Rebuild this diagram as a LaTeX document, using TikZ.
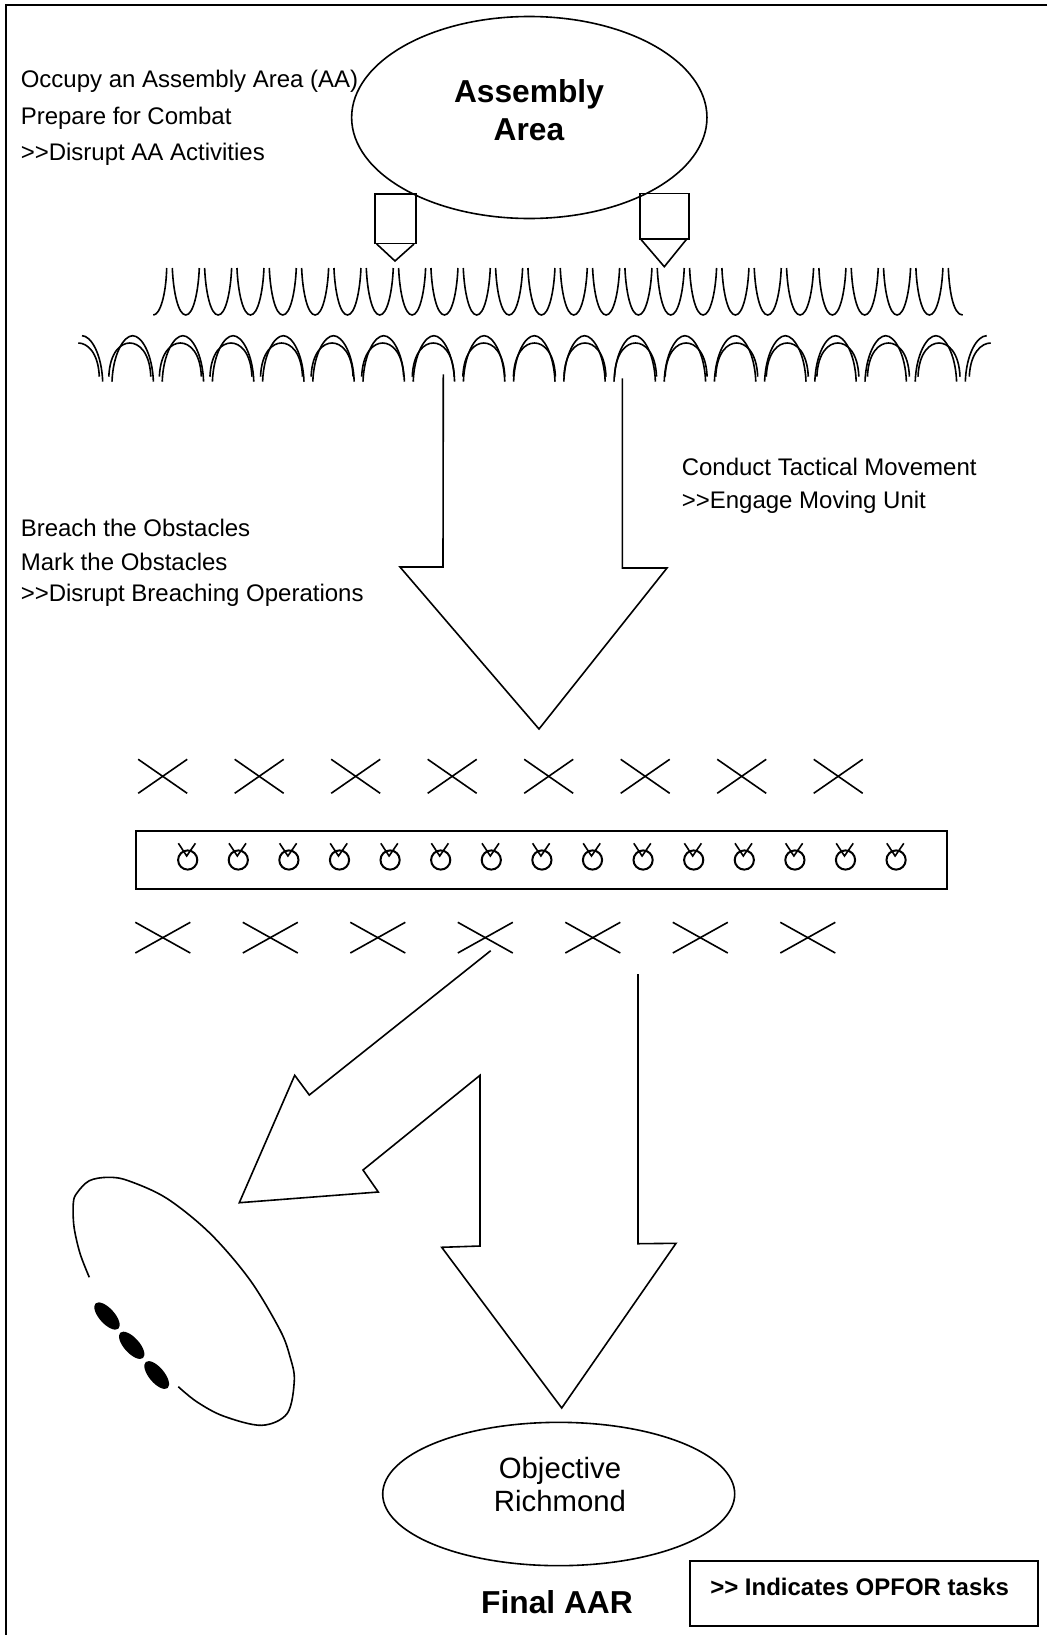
\documentclass[tikz,border=0pt]{standalone}
\usepackage{fontspec}
\setmainfont{Liberation Sans}
\usetikzlibrary{shapes.geometric}
\tikzset{
  ln/.style={draw=black,line width=1.2pt,line join=miter},
  frameline/.style={draw=black,line width=1.7pt},
  oval/.style={ellipse,draw=black,line width=1.2pt,inner sep=0pt,outer sep=0pt},
  lab/.style={anchor=base west,inner sep=0pt,font=\fontsize{18}{18}\selectfont},
  heading/.style={anchor=base,inner sep=0pt,font=\fontsize{23.8}{24}\selectfont\bfseries},
  objlab/.style={anchor=base,inner sep=0pt,font=\fontsize{22}{22}\selectfont},
  keybox/.style={rectangle,draw=black,line width=1.4pt,inner sep=0pt,minimum width=260.5pt,minimum height=49pt},
  blob/.style={ellipse,fill=black,draw=none,inner sep=0pt,minimum width=25.5pt,minimum height=11.5pt},
}
\begin{document}
\begin{tikzpicture}[x=0.75pt,y=-0.75pt]
\useasboundingbox (0,0) rectangle (1047,1635);
\fill[white] (0,0) rectangle (1047,1635);
% frame: only top and left edges
\draw[frameline] (1047,5) -- (6,5) -- (6,1635);

% pencils under the assembly area (drawn first so the ellipse line shows on top)
\draw[ln] (375,194) rectangle (416,243.5);
\draw[ln] (376.7,244) -- (395,261) -- (414,244);
\draw[ln] (640,193.3) rectangle (689,238.7);
\draw[ln] (640.3,238.7) -- (664.3,266.7) -- (687,238.7);

% ovals
\node[oval,minimum width=266.5pt,minimum height=151.5pt] (aa) at (529.3,117.5) {};
\node[oval,minimum width=264pt,minimum height=107.5pt] (obj) at (558.7,1494) {};

% texts
\node[heading] (aa1) at (529,102) {Assembly};
\node[heading] (aa2) at (529,140) {Area};
\node[lab] (t1) at (20.5,87.3) {Occupy an Assembly Area (AA)};
\node[lab] (t2) at (20.5,124) {Prepare for Combat};
\node[lab] (t3) at (20.5,160) {>{}>Disrupt AA Activities};
\node[lab] (t4) at (681.5,475) {Conduct Tactical Movement};
\node[lab] (t5) at (681.5,508.3) {>{}>Engage Moving Unit};
\node[lab] (t6) at (20.5,536) {Breach the Obstacles};
\node[lab] (t7) at (20.5,570) {Mark the Obstacles};
\node[lab] (t8) at (20.5,601.5) {>{}>Disrupt Breaching Operations};
\node[objlab] (o1) at (560,1478) {Objective};
\node[objlab] (o2) at (560,1511.7) {Richmond};
\node[heading] (fin) at (557,1613) {Final AAR};
\node[keybox] (key) at (864,1593.3) {};
\node[lab,font=\fontsize{18}{18}\selectfont\bfseries] (keyt) at (710,1595) {>{}> Indicates OPFOR tasks};

% upper wire: cups
\draw[ln] (153.3,315) .. controls (160,315) and (166,295) .. (166.7,268);
\foreach \n [evaluate=\n as \l using 172.3+32.33*\n] in {0,...,23}{
  \draw[ln] (\l,268) .. controls (\l+1,292) and (\l+6,315) .. (\l+13.5,315)
     .. controls (\l+21,315) and (\l+26,292) .. (\l+27,268);
}
\draw[ln] (948.3,268) .. controls (949.3,290) and (953,315) .. (962.7,315);

% lower wire: two overlapping rows of arches
\foreach \n [evaluate=\n as \c using 132.7+50.2*\n] in {0,...,16}{
  \draw[ln] (\c-20.7,381.7) .. controls (\c-19.7,354) and (\c-9,335.7) .. (\c,335.7)
     .. controls (\c+9,335.7) and (\c+19.7,354) .. (\c+20.7,381.7);
}
\draw[ln] (82,335.7) .. controls (91,335.7) and (101.7,354) .. (102.7,381.7);
\draw[ln] (986.7,335.7) .. controls (977,335.7) and (966.3,354) .. (965.3,381.7);
\foreach \n [evaluate=\n as \c using 129.8+50.575*\n] in {0,...,16}{
  \draw[ln] (\c-21,376.7) .. controls (\c-20,352) and (\c-9,343) .. (\c,343)
     .. controls (\c+9,343) and (\c+20,352) .. (\c+21,376.7);
}
\draw[ln] (78.3,343) .. controls (87,343) and (98.3,352) .. (99.3,376.7);
\draw[ln] (990.7,343) .. controls (982,343) and (970.3,352) .. (969.3,376.7);

% first big arrow
\draw[ln] (443.3,374.3) -- (443,567) -- (400,567) -- (539,729) -- (667,568) -- (622.3,568) -- (622.3,378.3);

% first row of crosses
\foreach \n [evaluate=\n as \c using 162.7+96.5*\n] in {0,...,7}{
  \draw[ln] (\c-24.5,759.3) -- (\c+24.5,793.3);
  \draw[ln] (\c-24.5,793.3) -- (\c+24.5,759.3);
}

% obstacle belt
\draw[ln] (136,830.7) rectangle (947,889);
\foreach \n [evaluate=\n as \c using 187.7+50.6*\n] in {0,...,14}{
  \draw[ln,line width=1.5pt] (\c,860) circle[radius=7.2pt];
  \draw[ln] (\c-9.3,843.3) -- (\c-1,856) -- (\c+7.7,843.3);
}

% second row of crosses
\foreach \n [evaluate=\n as \c using 162.8+107.5*\n] in {0,...,6}{
  \draw[ln] (\c-27.5,922.3) -- (\c+27.5,953);
  \draw[ln] (\c-27.5,953) -- (\c+27.5,922.3);
}

% forked arrow
\draw[ln] (490.7,950.7) -- (309.3,1095) -- (294.7,1075.3) -- (239.3,1202.7) -- (378.3,1192) -- (363,1170) -- (480,1075.3) -- (480,1246) -- (441.7,1247.3) -- (561.7,1408) -- (676,1243.3) -- (638,1243.7) -- (638,974);

% enemy position
\draw[ln] plot[smooth,tension=0.55] coordinates {(89.3,1277.3) (80,1253.3) (74,1226.7) (73.3,1203.3) (76.7,1193.3) (89.3,1180.7) (108.3,1177.3) (128.3,1180.7) (166.7,1198.3) (210,1233.3) (250,1280) (280,1330) (290,1356.7) (294.3,1380) (287.3,1413.3) (261.7,1425.3) (223.3,1416) (196.7,1401.7) (178.3,1386.7)};
\node[blob,rotate=-48] (b1) at (107,1316) {};
\node[blob,rotate=-48] (b2) at (131.7,1345.3) {};
\node[blob,rotate=-50] (b3) at (156.7,1375) {};
\end{tikzpicture}
\end{document}
